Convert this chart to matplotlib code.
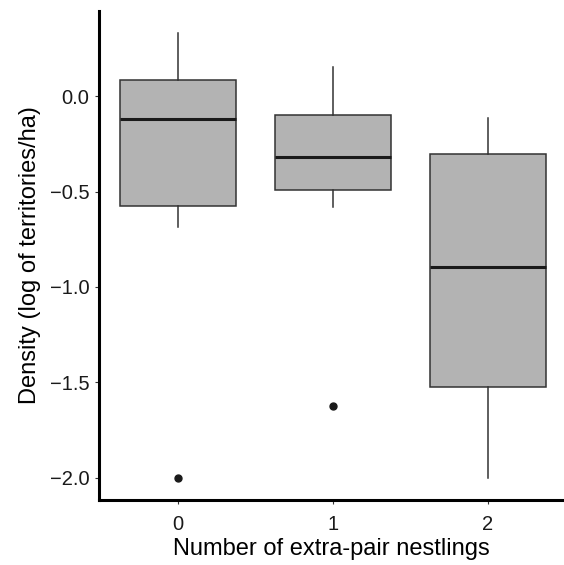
import matplotlib
matplotlib.use("Agg")
import matplotlib.pyplot as plt

plt.rcParams['font.family'] = ['Liberation Sans', 'DejaVu Sans']

# box statistics (log of territories/ha)
groups = ['0', '1', '2']
q1 = [-0.574, -0.49, -1.527]
medians = [-0.117, -0.317, -0.896]
q3 = [0.084, -0.097, -0.304]
whis_lo = [-0.684, -0.581, -2.0]
whis_hi = [0.33, 0.155, -0.112]
outliers = [[-2.0], [-1.625], []]

stats = []
for i in range(len(groups)):
    stats.append(dict(label=groups[i], q1=q1[i], med=medians[i], q3=q3[i],
                      whislo=whis_lo[i], whishi=whis_hi[i], fliers=outliers[i]))

fig = plt.figure(figsize=(5.64, 5.65), dpi=100)
ax = fig.add_axes([99 / 564, 1 - 500 / 565, 1 - 99 / 564, (500 - 11) / 565])

edge = '#333333'
ax.bxp(stats, positions=range(len(groups)), widths=0.75, patch_artist=True,
       showcaps=False,
       boxprops=dict(facecolor='#b3b3b3', edgecolor=edge, linewidth=1.1),
       medianprops=dict(color='#1a1a1a', linewidth=2.2),
       whiskerprops=dict(color=edge, linewidth=1.1),
       flierprops=dict(marker='o', markerfacecolor='#1a1a1a', markeredgecolor='#1a1a1a', markersize=5))

ax.set_xlim(-0.51, 2.49)
ax.set_ylim(-2.118, 0.447)
ax.set_yticks([0.0, -0.5, -1.0, -1.5, -2.0])
ax.set_yticklabels(['0.0', '\u22120.5', '\u22121.0', '\u22121.5', '\u22122.0'])
ax.set_xticks(range(len(groups)))
ax.set_xticklabels(groups)

for s in ['top', 'right']:
    ax.spines[s].set_visible(False)
for s in ['left', 'bottom']:
    ax.spines[s].set_linewidth(2.2)
    ax.spines[s].set_color('black')
ax.tick_params(axis='both', length=3, width=0.8, color=edge, labelsize=14.5, labelcolor='#1a1a1a')
ax.tick_params(axis='x', pad=8)
ax.tick_params(axis='y', pad=4)

ax.set_xlabel('Number of extra-pair nestlings', fontsize=17, labelpad=3)
ax.set_ylabel('Density (log of territories/ha)', fontsize=17, labelpad=6)

fig.savefig('out.png', dpi=100)
